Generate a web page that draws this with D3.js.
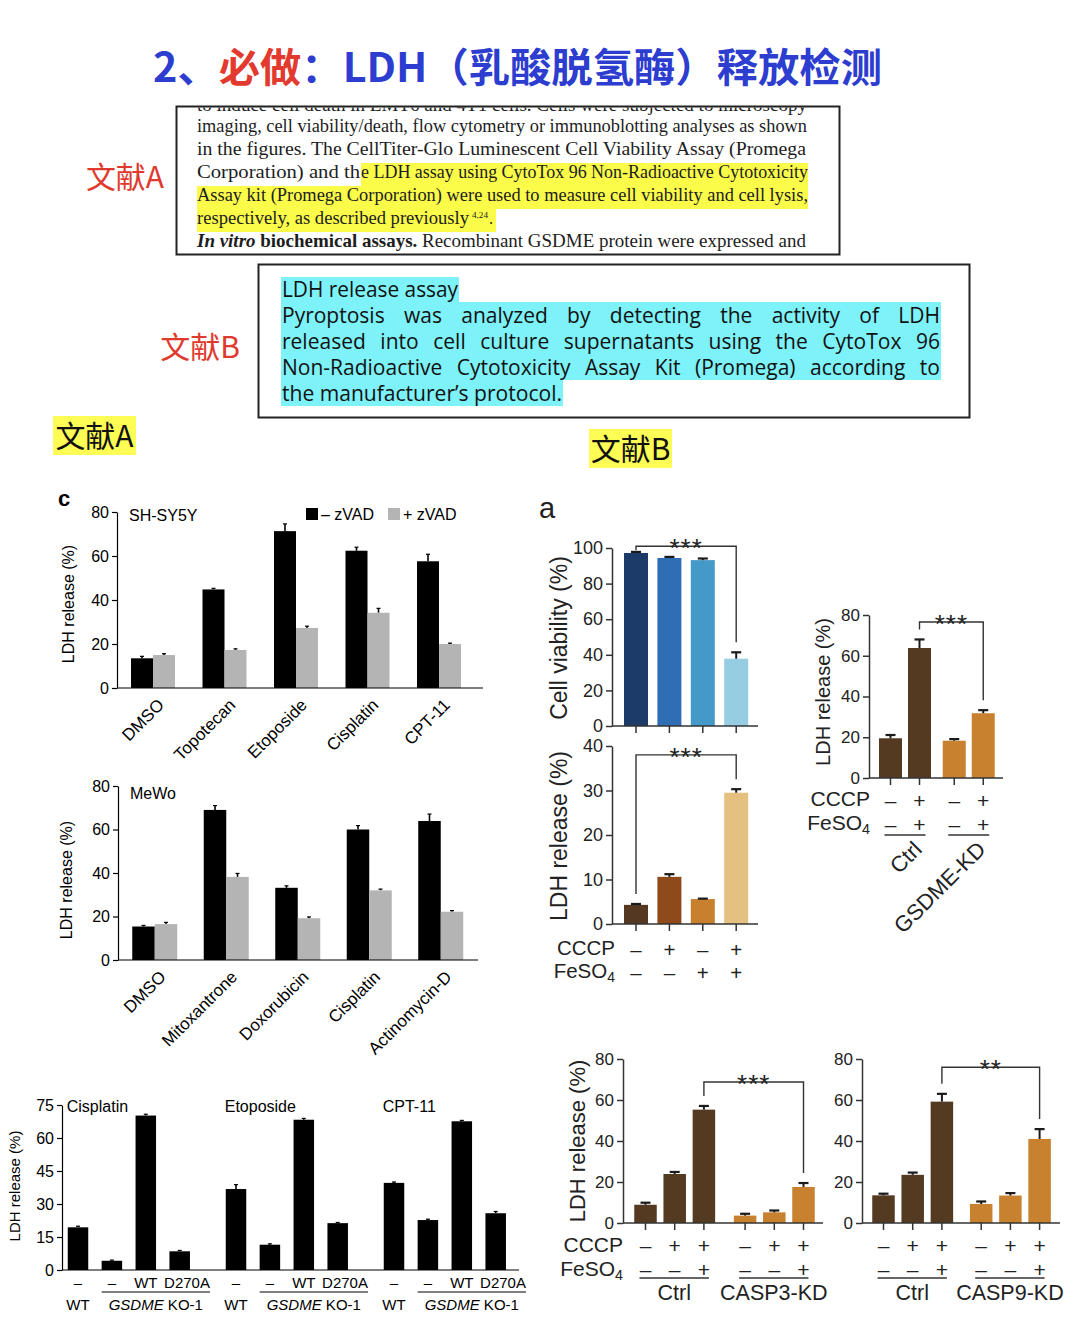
<!DOCTYPE html>
<html><head><meta charset="utf-8">
<script src="https://cdn.jsdelivr.net/npm/d3@7/dist/d3.min.js"></script>
<style>html,body{margin:0;padding:0;background:#fff;}svg{display:block;}</style>
</head><body>
<svg id="fig" width="1080" height="1322" xmlns="http://www.w3.org/2000/svg"></svg>
<script>
// ================= DATA =================
const titleParts = ["2、", "必做", "：LDH（乳酸脱氢酶）释放检测"];
const refA = "文献A", refB = "文献B";

const boxALine0 = "to induce cell death in EMT6 and 4T1 cells. Cells were subjected to microscopy";
const boxALine1 = "imaging, cell viability/death, flow cytometry or immunoblotting analyses as shown";
const boxALine2 = "in the figures. The CellTiter-Glo Luminescent Cell Viability Assay (Promega";
const boxALine3a = "Corporation) and th";
const boxALine3b = "e LDH assay using CytoTox 96 Non-Radioactive Cytotoxicity";
const boxALine4 = "Assay kit (Promega Corporation) were used to measure cell viability and cell lysis,";
const boxALine5 = ["respectively, as described previously", "4,24", "."];
const boxALine6 = ["In vitro", " biochemical assays.", " Recombinant GSDME protein were expressed and"];

const boxBLines = [
  "LDH release assay",
  "Pyroptosis was analyzed by detecting the activity of LDH",
  "released into cell culture supernatants using the CytoTox 96",
  "Non-Radioactive Cytotoxicity Assay Kit (Promega) according to",
  "the manufacturer’s protocol."
];

// Panel c, SH-SY5Y
const zvadKeys = ["– zVAD", "+ zVAD"];
const shsyCats = ["DMSO", "Topotecan", "Etoposide", "Cisplatin", "CPT-11"];
const shsyMinus = [13.5, 44.8, 71.3, 62.4, 57.6];
const shsyMinusErr = [0.9, 0.5, 3.3, 1.6, 3.2];
const shsyPlus = [15.0, 17.3, 27.3, 34.2, 20.0];
const shsyPlusErr = [0.6, 0.5, 0.8, 2.0, 0.4];

// Panel c, MeWo
const mewoCats = ["DMSO", "Mitoxantrone", "Doxorubicin", "Cisplatin", "Actinomycin-D"];
const mewoMinus = [15.4, 69.0, 33.2, 60.0, 63.9];
const mewoMinusErr = [0.5, 2.0, 0.9, 1.8, 3.2];
const mewoPlus = [16.5, 38.2, 19.2, 32.0, 22.2];
const mewoPlusErr = [0.8, 1.6, 0.6, 0.6, 0.5];
const zvadTicks = [0, 20, 40, 60, 80];

// GSDME KO panel
const koDrugs = ["Cisplatin", "Etoposide", "CPT-11"];
const koCells = ["WT", "KO-", "KO-WT", "KO-D270A"];
const koRow1 = ["–", "–", "WT", "D270A"];
const koRow2 = ["WT", "GSDME", " KO-1"];
const koValues = [[19.4, 4.2, 70.2, 8.5], [36.8, 11.5, 68.3, 21.3], [39.6, 22.7, 67.6, 25.8]];
const koErrs = [[0.5, 0.3, 0.6, 0.4], [2.0, 0.4, 0.6, 0.3], [0.4, 0.4, 0.4, 0.8]];
const koTicks = [0, 15, 30, 45, 60, 75];

// Panel a (ref B)
const condKeys4 = ["c1", "c2", "c3", "c4"];
const viabilityVals = [97.2, 94.4, 93.2, 37.8];
const viabilityErrs = [0.6, 0.6, 0.9, 3.6];
const viabilityTicks = [0, 20, 40, 60, 80, 100];
const ldhAVals = [4.3, 10.6, 5.6, 29.5];
const ldhAErrs = [0.2, 0.6, 0.1, 0.8];
const ldhATicks = [0, 10, 20, 30, 40];
const cccpA = ["–", "+", "–", "+"];
const feso4A = ["–", "–", "+", "+"];

// GSDME-KD panel
const kdGroups = ["Ctrl", "GSDME-KD"];
const kdVals = [[19.5, 63.8], [18.3, 31.8]];
const kdErrs = [[1.6, 4.2], [0.8, 1.5]];
const kdCccp = [["–", "+"], ["–", "+"]];
const kdFeso4 = [["–", "+"], ["–", "+"]];

// CASP3 / CASP9 panels
const casp3Groups = ["Ctrl", "CASP3-KD"];
const casp3Vals = [[8.9, 23.9, 55.3], [3.6, 5.2, 17.6]];
const casp3Errs = [[1.0, 1.0, 1.8], [0.9, 0.9, 1.9]];
const casp9Groups = ["Ctrl", "CASP9-KD"];
const casp9Vals = [[13.5, 23.5, 59.2], [9.3, 13.4, 41.0]];
const casp9Errs = [[0.8, 1.1, 3.8], [1.2, 1.2, 4.8]];
const caspCccp = [["–", "+", "+"], ["–", "+", "+"]];
const caspFeso4 = [["–", "–", "+"], ["–", "–", "+"]];
const ldhTicks80 = [0, 20, 40, 60, 80];

// ================= DRAWING =================
const svg = d3.select("#fig");
const SANS = "'Liberation Sans', Arial, Helvetica, sans-serif";
const CJK = "'Noto Sans CJK SC', 'Noto Sans CJK JP', sans-serif";
const SERIF = "'Liberation Serif', 'Times New Roman', serif";

// ---- title
{
  const cols = ["#2c3dcf", "#e23a2e", "#2c3dcf"];
  const t = svg.append("text").attr("x", 153).attr("y", 82)
    .attr("font-family", CJK).attr("font-weight", 700).attr("font-size", 40)
    .attr("textLength", 729).attr("lengthAdjust", "spacingAndGlyphs");
  titleParts.forEach((p, i) => t.append("tspan").attr("fill", cols[i]).text(p));
}

// ---- reference labels
function cjkLabel(txt, x, y, fill, size) {
  return svg.append("text").attr("x", x).attr("y", y).attr("text-anchor", "middle")
    .attr("font-family", CJK).attr("font-size", size).attr("fill", fill).text(txt);
}
cjkLabel(refA, 125, 188, "#e03a2e", 30);
cjkLabel(refB, 200, 358, "#e03a2e", 30);
svg.append("rect").attr("x", 53).attr("y", 416).attr("width", 83).attr("height", 39).attr("fill", "#fdfd55");
cjkLabel(refA, 94.5, 447, "#111", 30);
svg.append("rect").attr("x", 589).attr("y", 429).attr("width", 83).attr("height", 39).attr("fill", "#fdfd55");
cjkLabel(refB, 630.5, 460, "#111", 30);

// ---- box A
{
  const g = svg.append("g");
  g.append("clipPath").attr("id", "clipA").append("rect").attr("x", 177).attr("y", 107.5).attr("width", 662).attr("height", 146.5);
  const hl = "#fbfb4a";
  [[361, 163, 447], [197, 186, 611], [197, 209, 299]].forEach(([x, y, w]) =>
    g.append("rect").attr("x", x).attr("y", y).attr("width", w).attr("height", 23).attr("fill", hl));
  const line = (x, y, w, txt, fs) => g.append("text").attr("x", x).attr("y", y)
      .attr("font-family", SERIF).attr("font-size", fs || 19).attr("fill", "#1d1d1d")
      .attr("textLength", w).attr("lengthAdjust", "spacingAndGlyphs").text(txt);
  // a line whose natural width must not exceed its slot
  const fitLine = (x, y, w, txt, fs) => {
    const t = g.append("text").attr("x", x).attr("y", y).attr("font-family", SERIF)
      .attr("font-size", fs).attr("fill", "#1d1d1d").text(txt);
    const nat = t.node().getComputedTextLength();
    if (nat > w) t.attr("font-size", fs * w / nat);
    t.attr("textLength", w).attr("lengthAdjust", "spacingAndGlyphs");
    return t;
  };
  line(197, 111, 610, boxALine0).attr("clip-path", "url(#clipA)");
  line(197, 132, 610, boxALine1);
  line(197, 155, 609, boxALine2);
  line(197, 178, 163, boxALine3a);
  line(361, 178, 447, boxALine3b);
  line(197, 201, 611, boxALine4);
  fitLine(197, 224, 272, boxALine5[0], 19);
  fitLine(472, 218, 16, boxALine5[1], 10.5);
  fitLine(489, 224, 4, boxALine5[2], 19);
  const t6 = g.append("text").attr("x", 197).attr("y", 247).attr("font-family", SERIF).attr("font-size", 19).attr("fill", "#1d1d1d")
    .attr("textLength", 609).attr("lengthAdjust", "spacingAndGlyphs");
  t6.append("tspan").attr("font-weight", 700).attr("font-style", "italic").text(boxALine6[0]);
  t6.append("tspan").attr("font-weight", 700).text(boxALine6[1]);
  t6.append("tspan").text(boxALine6[2]);
  g.append("rect").attr("x", 176.5).attr("y", 106.5).attr("width", 663).attr("height", 148)
    .attr("fill", "none").attr("stroke", "#222").attr("stroke-width", 2);
}

// ---- box B
{
  const g = svg.append("g");
  const hl = "#7ef2f9";
  [[281, 277, 178, 26], [281, 302, 660, 78], [281, 380, 282, 26]].forEach(([x, y, w, h]) =>
    g.append("rect").attr("x", x).attr("y", y).attr("width", w).attr("height", h).attr("fill", hl));
  const widths = [176, 658, 658, 658, 280];
  boxBLines.forEach((ln, i) => {
    const t = g.append("text").attr("x", 282).attr("y", 297 + i * 26)
      .attr("font-family", "'Open Sans', 'Noto Sans', sans-serif").attr("font-size", 21).attr("fill", "#111").text(ln);
    const w = t.node().getComputedTextLength();
    const justified = i >= 1 && i <= 3;
    if (justified && w < widths[i]) {
      t.attr("word-spacing", (widths[i] - w) / (ln.split(" ").length - 1));
    } else {
      t.attr("textLength", widths[i]).attr("lengthAdjust", "spacingAndGlyphs");
    }
  });
  g.append("rect").attr("x", 258.5).attr("y", 264.5).attr("width", 711).attr("height", 153)
    .attr("fill", "none").attr("stroke", "#222").attr("stroke-width", 2);
}

// ---- helpers
function nestedBand(groups, inner, firstCenter, innerStep, groupStep, barW) {
  const innerRange = inner.length * innerStep;
  const multi = groups.length > 1;
  const gstep = multi ? groupStep : innerRange;
  const gpi = multi ? 1 - innerRange / groupStep : 0;
  const g0 = firstCenter + (inner.length - 1) * innerStep / 2;
  const gN = g0 + (groups.length - 1) * gstep;
  const outer = d3.scaleBand().domain(groups).range([g0 - gstep / 2, gN + gstep / 2])
    .paddingInner(gpi).paddingOuter(gpi / 2);
  const ipi = 1 - barW / innerStep;
  const inn = d3.scaleBand().domain(inner).range([0, outer.bandwidth()])
    .paddingInner(ipi).paddingOuter(ipi / 2);
  return { outer, inner: inn };
}

function yAxis(g, y, x, ticks, st) {
  const a = d3.axisLeft(y).tickValues(ticks).tickSize(st.tick).tickSizeOuter(0).tickPadding(st.pad);
  const ga = g.append("g").attr("transform", `translate(${x},0)`).call(a);
  ga.select(".domain").attr("stroke", st.color).attr("stroke-width", st.sw);
  ga.selectAll(".tick line").attr("stroke", st.color).attr("stroke-width", st.sw);
  ga.selectAll(".tick text").attr("font-family", SANS).attr("font-size", st.fs).attr("fill", st.tcolor);
  return ga;
}

function rotLabel(g, txt, x, y, size, fill) {
  return g.append("text").attr("transform", `translate(${x},${y}) rotate(-90)`)
    .attr("text-anchor", "middle").attr("font-family", SANS).attr("font-size", size)
    .attr("fill", fill || "#000").text(txt);
}

// ---- Panel c : zVAD grouped charts
function zvadChart(o) {
  const g = svg.append("g");
  const y = d3.scaleLinear().domain([0, 80]).range([o.y0, o.yTop]);
  const nb = nestedBand(o.cats, zvadKeys, o.firstCenter, o.barW, o.groupStep, o.barW);
  const cols = ["#000000", "#b4b4b4"];
  o.cats.forEach((c, i) => {
    zvadKeys.forEach((k, j) => {
      const v = j === 0 ? o.minus[i] : o.plus[i];
      const e = j === 0 ? o.minusErr[i] : o.plusErr[i];
      const w = nb.inner.bandwidth(), x = nb.outer(c) + nb.inner(k), cx = x + w / 2;
      g.append("line").attr("x1", cx).attr("x2", cx).attr("y1", y(v)).attr("y2", y(v + e)).attr("stroke", "#000").attr("stroke-width", 1.6);
      g.append("line").attr("x1", cx - 2).attr("x2", cx + 2).attr("y1", y(v + e)).attr("y2", y(v + e)).attr("stroke", "#000").attr("stroke-width", 1.2);
      g.append("rect").attr("x", x).attr("y", y(v)).attr("width", w).attr("height", y(0) - y(v)).attr("fill", cols[j]);
    });
    const gc = nb.outer(c) + nb.outer.bandwidth() / 2;
    g.append("text").attr("transform", `translate(${gc + 3},${o.y0 + 9}) rotate(-45)`)
      .attr("dy", "0.75em").attr("text-anchor", "end").attr("font-family", SANS).attr("font-size", 17).text(c);
  });
  yAxis(g, y, o.axX, zvadTicks, { tick: 5, pad: 3, color: "#000", sw: 1.2, fs: 16, tcolor: "#000" });
  g.append("line").attr("x1", o.axX).attr("x2", o.axEnd).attr("y1", y(0)).attr("y2", y(0)).attr("stroke", "#000").attr("stroke-width", 1.2);
  g.append("text").attr("x", o.axX + 12).attr("y", o.nameY).attr("font-family", SANS).attr("font-size", 16).text(o.name);
  rotLabel(g, "LDH release (%)", o.labX, o.labY, 16);
  return { g, y };
}

zvadChart({ cats: shsyCats, minus: shsyMinus, minusErr: shsyMinusErr, plus: shsyPlus, plusErr: shsyPlusErr,
  y0: 688, yTop: 512, axX: 117, axEnd: 483, firstCenter: 142, barW: 22, groupStep: 71.5,
  name: "SH-SY5Y", nameY: 521, labX: 74, labY: 604 });
zvadChart({ cats: mewoCats, minus: mewoMinus, minusErr: mewoMinusErr, plus: mewoPlus, plusErr: mewoPlusErr,
  y0: 960, yTop: 786, axX: 118, axEnd: 478, firstCenter: 143.5, barW: 22.5, groupStep: 71.5,
  name: "MeWo", nameY: 799, labX: 72, labY: 880 });

svg.append("text").attr("x", 58).attr("y", 506).attr("font-family", SANS).attr("font-weight", 700).attr("font-size", 22).text("c");
zvadKeys.forEach((k, j) => {
  const lx = [306, 388][j];
  svg.append("rect").attr("x", lx).attr("y", 508).attr("width", 12).attr("height", 12).attr("fill", ["#000", "#b4b4b4"][j]);
  svg.append("text").attr("x", lx + 15).attr("y", 520).attr("font-family", SANS).attr("font-size", 16).text(k);
});

// ---- GSDME KO chart
{
  const g = svg.append("g");
  const y = d3.scaleLinear().domain([0, 75]).range([1270, 1105]);
  const nb = nestedBand(koDrugs, koCells, 78, 33.9, 158, 20.5);
  const w = nb.inner.bandwidth();
  koDrugs.forEach((d, gi) => {
    koCells.forEach((c, ki) => {
      const v = koValues[gi][ki], e = koErrs[gi][ki];
      const x = nb.outer(d) + nb.inner(c), cx = x + w / 2;
      g.append("line").attr("x1", cx).attr("x2", cx).attr("y1", y(v)).attr("y2", y(v + e)).attr("stroke", "#000").attr("stroke-width", 1.6);
      g.append("line").attr("x1", cx - 2).attr("x2", cx + 2).attr("y1", y(v + e)).attr("y2", y(v + e)).attr("stroke", "#000").attr("stroke-width", 1.2);
      g.append("rect").attr("x", x).attr("y", y(v)).attr("width", w).attr("height", y(0) - y(v)).attr("fill", "#000");
      const t = g.append("text").attr("y", 1288).attr("font-family", SANS).attr("font-size", 15).text(koRow1[ki]);
      if (ki === 3) t.attr("x", x + w + 20).attr("text-anchor", "end");
      else t.attr("x", cx).attr("text-anchor", "middle");
    });
    const x0 = nb.outer(d) + nb.inner(koCells[0]);
    g.append("text").attr("x", x0 - 1).attr("y", 1112).attr("font-family", SANS).attr("font-size", 16).text(d);
    g.append("text").attr("x", x0 + w / 2).attr("y", 1310).attr("text-anchor", "middle").attr("font-family", SANS).attr("font-size", 15).text(koRow2[0]);
    const l1 = nb.outer(d) + nb.inner(koCells[1]), l2 = nb.outer(d) + nb.inner(koCells[3]) + w + 20;
    g.append("line").attr("x1", l1).attr("x2", l2).attr("y1", 1292).attr("y2", 1292).attr("stroke", "#000").attr("stroke-width", 1.1);
    const t2 = g.append("text").attr("x", (l1 + l2) / 2).attr("y", 1310).attr("text-anchor", "middle").attr("font-family", SANS).attr("font-size", 15);
    t2.append("tspan").attr("font-style", "italic").text(koRow2[1]);
    t2.append("tspan").text(koRow2[2]);
  });
  yAxis(g, y, 62, koTicks, { tick: 5, pad: 3, color: "#000", sw: 1.2, fs: 16, tcolor: "#000" });
  g.append("line").attr("x1", 62).attr("x2", 519).attr("y1", y(0)).attr("y2", y(0)).attr("stroke", "#000").attr("stroke-width", 1.2);
  rotLabel(g, "LDH release (%)", 20, 1186, 15);
}

// ---- Reference B charts
function rightChart(o) {
  const g = svg.append("g");
  const y = d3.scaleLinear().domain([0, o.yMax]).range([o.y0, o.yTop]);
  const nb = nestedBand(o.groups, o.keys, o.firstCenter, o.innerStep, o.groupStep, o.barW);
  const w = nb.inner.bandwidth();
  const cx = (gi, ki) => nb.outer(o.groups[gi]) + nb.inner(o.keys[ki]) + w / 2;
  const top = (gi, ki) => y(o.values[gi][ki] + o.errs[gi][ki]);
  o.groups.forEach((gr, gi) => o.keys.forEach((k, ki) => {
    const v = o.values[gi][ki], e = o.errs[gi][ki], c = cx(gi, ki);
    g.append("rect").attr("x", c - w / 2).attr("y", y(v)).attr("width", w).attr("height", y(0) - y(v)).attr("fill", o.colors[gi][ki]);
    g.append("line").attr("x1", c).attr("x2", c).attr("y1", y(v)).attr("y2", y(v + e)).attr("stroke", "#1a1a1a").attr("stroke-width", 2);
    g.append("line").attr("x1", c - 5).attr("x2", c + 5).attr("y1", y(v + e)).attr("y2", y(v + e)).attr("stroke", "#1a1a1a").attr("stroke-width", 2.2);
    g.append("line").attr("x1", c).attr("x2", c).attr("y1", y(0)).attr("y2", y(0) + 7).attr("stroke", "#333").attr("stroke-width", 1.5);
  }));
  yAxis(g, y, o.axX, o.ticks, { tick: 6, pad: 3, color: "#333", sw: 1.5, fs: o.tickFs, tcolor: "#222" });
  g.append("line").attr("x1", o.axX).attr("x2", o.axEnd).attr("y1", y(0)).attr("y2", y(0)).attr("stroke", "#333").attr("stroke-width", 1.5);
  if (o.label) rotLabel(g, o.label, o.labX, o.labY, o.labFs, "#222");
  return { g, y, cx, top, nb, w };
}

function bracket(ch, a, b, level, stars) {
  const { g, y, cx, top } = ch;
  const ly = y(level);
  const x1 = cx(a[0], a[1]), x2 = cx(b[0], b[1]);
  const e1 = Math.max(top(a[0], a[1]) - 10, ly + 4), e2 = Math.max(top(b[0], b[1]) - 10, ly + 4);
  g.append("path").attr("d", `M${x1},${e1}V${ly}H${x2}V${e2}`).attr("fill", "none").attr("stroke", "#333").attr("stroke-width", 1.4);
  g.append("text").attr("x", (x1 + x2) / 2).attr("y", ly + 11).attr("text-anchor", "middle")
    .attr("font-family", SANS).attr("font-size", 26).attr("letter-spacing", 1).attr("fill", "#222").text(stars);
}

function signRows(ch, rows, centers, labelX, baselines, fs) {
  const { g, cx } = ch;
  rows.forEach((row, r) => {
    row.forEach((grp, gi) => grp.forEach((s, ki) => {
      g.append("text").attr("x", cx(gi, ki)).attr("y", centers[r]).attr("text-anchor", "middle")
        .attr("dominant-baseline", "central").attr("font-family", SANS).attr("font-size", fs).attr("fill", "#222").text(s);
    }));
  });
  if (labelX != null) {
    g.append("text").attr("x", labelX).attr("y", baselines[0]).attr("text-anchor", "end").attr("font-family", SANS)
      .attr("font-size", fs).attr("fill", "#222").text("CCCP");
    const t = g.append("text").attr("x", labelX).attr("y", baselines[1]).attr("text-anchor", "end").attr("font-family", SANS)
      .attr("font-size", fs).attr("fill", "#222");
    t.append("tspan").text("FeSO");
    t.append("tspan").attr("font-size", fs * 0.68).attr("dy", fs * 0.2).text("4");
  }
}

svg.append("text").attr("x", 539).attr("y", 518).attr("font-family", SANS).attr("font-size", 29).attr("fill", "#222").text("a");

const viab = rightChart({ groups: ["all"], keys: condKeys4, values: [viabilityVals], errs: [viabilityErrs],
  colors: [["#1c3b68", "#2f6db4", "#4499c9", "#96cde3"]],
  yMax: 100, y0: 726, yTop: 548, ticks: viabilityTicks, axX: 612, axEnd: 758,
  firstCenter: 636, innerStep: 33.4, groupStep: 0, barW: 24, tickFs: 18,
  label: "Cell viability (%)", labX: 567, labY: 638, labFs: 23 });
bracket(viab, [0, 0], [0, 3], 101, "***");

const ldhA = rightChart({ groups: ["all"], keys: condKeys4, values: [ldhAVals], errs: [ldhAErrs],
  colors: [["#553821", "#8f4a1c", "#c8802e", "#e5c181"]],
  yMax: 40, y0: 924, yTop: 746, ticks: ldhATicks, axX: 612, axEnd: 758,
  firstCenter: 636, innerStep: 33.4, groupStep: 0, barW: 24, tickFs: 18,
  label: "LDH release (%)", labX: 567, labY: 836, labFs: 23 });
bracket(ldhA, [0, 0], [0, 3], 38, "***");
signRows(ldhA, [[cccpA], [feso4A]], [949, 972], 615, [955, 978], 20.5);

const brown = "#553a22", orange = "#c8812f";
const kd = rightChart({ groups: kdGroups, keys: ["m", "p"], values: kdVals, errs: kdErrs,
  colors: [[brown, brown], [orange, orange]],
  yMax: 80, y0: 778, yTop: 615, ticks: ldhTicks80, axX: 869, axEnd: 1003,
  firstCenter: 890.5, innerStep: 29, groupStep: 63.75, barW: 23, tickFs: 17,
  label: "LDH release (%)", labX: 830, labY: 692, labFs: 20 });
bracket(kd, [0, 1], [1, 1], 76.6, "***");
signRows(kd, [kdCccp, kdFeso4], [800, 824], 870, [806, 830], 21);
kdGroups.forEach((gr, gi) => {
  const x1 = kd.cx(gi, 0) - 6, x2 = kd.cx(gi, 1) + 6;
  kd.g.append("line").attr("x1", x1).attr("x2", x2).attr("y1", 835).attr("y2", 835).attr("stroke", "#333").attr("stroke-width", 1.5);
  kd.g.append("text").attr("transform", `translate(${x2 - 14},${839}) rotate(-45)`).attr("dy", "0.75em")
    .attr("text-anchor", "end").attr("font-family", SANS).attr("font-size", 22).attr("fill", "#222").text(gr);
});

function caspChart(groups, vals, errs, axX, axEnd, firstCenter, groupStep, label, labX, labY, rowLabelX, sig, stars) {
  const ch = rightChart({ groups, keys: ["a", "b", "c"], values: vals, errs,
    colors: [[brown, brown, brown], [orange, orange, orange]],
    yMax: 80, y0: 1223, yTop: 1059, ticks: ldhTicks80, axX, axEnd,
    firstCenter, innerStep: 29.2, groupStep, barW: 22.5, tickFs: 17,
    label, labX, labY, labFs: 22 });
  bracket(ch, [0, 2], [1, 2], sig, stars);
  signRows(ch, [caspCccp, caspFeso4], [1245, 1269], rowLabelX, [1252, 1276], 21);
  groups.forEach((gr, gi) => {
    const x1 = ch.cx(gi, 0) - 6, x2 = ch.cx(gi, 2) + 5;
    ch.g.append("line").attr("x1", x1).attr("x2", x2).attr("y1", 1278).attr("y2", 1278).attr("stroke", "#333").attr("stroke-width", 1.5);
    ch.g.append("text").attr("x", (x1 + x2) / 2).attr("y", 1300).attr("text-anchor", "middle")
      .attr("font-family", SANS).attr("font-size", 21.5).attr("fill", "#222").text(gr);
  });
  return ch;
}
caspChart(casp3Groups, casp3Vals, casp3Errs, 623, 823, 645.5, 99.6, "LDH release (%)", 585, 1141, 623, 68.8, "***");
caspChart(casp9Groups, casp9Vals, casp9Errs, 862, 1060, 883.5, 97.7, null, 0, 0, null, 76, "**");
</script>
</body></html>
